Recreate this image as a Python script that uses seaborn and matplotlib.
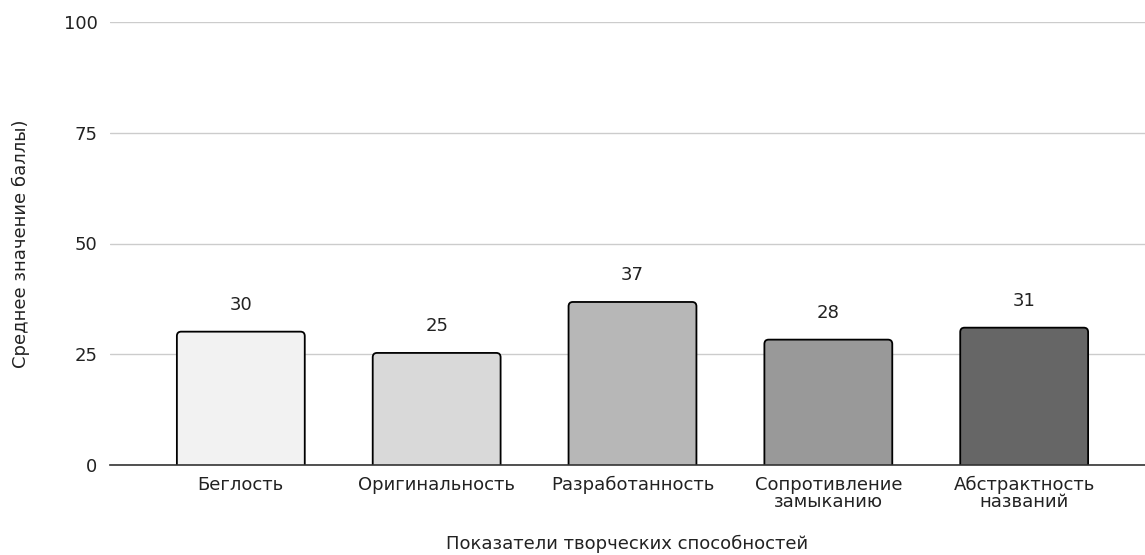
import matplotlib
matplotlib.use("Agg")
import matplotlib.pyplot as plt
from matplotlib.patches import FancyBboxPatch
import seaborn as sns
import pandas as pd

# === Data ===
categories = ["Беглость", "Оригинальность", "Разработанность",
              "Сопротивление\nзамыканию", "Абстрактность\nназваний"]
values = [30.1, 25.3, 36.8, 28.3, 31.0]
bar_colors = ["#f2f2f2", "#d9d9d9", "#b7b7b7", "#999999", "#666666"]
y_ticks = [0, 25, 50, 75, 100]

df = pd.DataFrame({"category": categories, "value": values})

sns.set_theme(style="white")
plt.rcParams["font.family"] = ["DejaVu Sans"]

fig = plt.figure(figsize=(11.45, 5.55), dpi=100)
ax = fig.add_axes([110 / 1145, 1 - 465 / 555, 1 - 110 / 1145, (465 - 22) / 555])

sns.barplot(data=df, x="category", y="value", hue="category", palette=bar_colors,
            legend=False, width=0.653, edgecolor="black", linewidth=1.3, ax=ax,
            zorder=3)

# swap the plain rectangles for slightly rounded ones
for p in list(ax.patches):
    x0, w, h = p.get_x(), p.get_width(), p.get_height()
    rounded = FancyBboxPatch((x0, -2), w, h + 2,
                             boxstyle="round,pad=0,rounding_size=0.022",
                             mutation_aspect=45,
                             facecolor=p.get_facecolor(), edgecolor="black",
                             linewidth=1.3, zorder=3)
    p.remove()
    ax.add_patch(rounded)

for i, v in enumerate(values):
    ax.annotate(f"{round(v)}", xy=(i, v), xytext=(0, 15.5), textcoords="offset points",
                ha="center", va="baseline", fontsize=13, color="#222222")

ax.set_ylim(0, 100)
ax.set_xlim(-0.668, 4.617)
ax.set_yticks(y_ticks)
ax.yaxis.grid(True, color="#cccccc", linewidth=1)
ax.set_axisbelow(True)
for s in ["top", "right", "left"]:
    ax.spines[s].set_visible(False)
ax.spines["bottom"].set_color("#333333")
ax.spines["bottom"].set_linewidth(1.2)
ax.spines["bottom"].set_zorder(4)

ax.tick_params(axis="both", length=0, labelsize=13, labelcolor="#222222")
ax.tick_params(axis="x", pad=8)
ax.tick_params(axis="y", pad=9)
for lbl in ax.get_xticklabels():
    lbl.set_linespacing(0.9)

ax.set_xlabel("Показатели творческих способностей", fontsize=13, color="#222222",
              labelpad=17)
ax.set_ylabel("Среднее значение баллы)", fontsize=13, color="#222222", labelpad=24)

fig.savefig("out.png", dpi=100)
